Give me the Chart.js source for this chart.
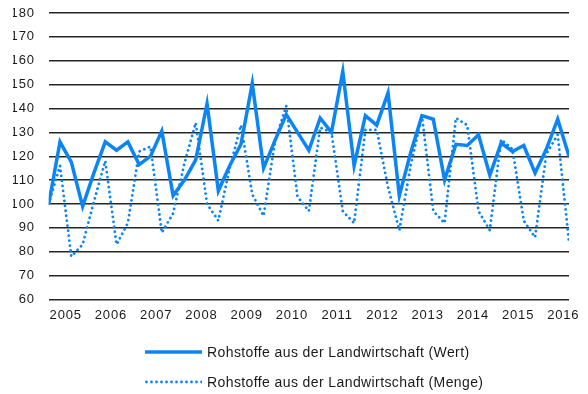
<!DOCTYPE html>
<html lang="de">
<head>
<meta charset="utf-8">
<title>Rohstoffe aus der Landwirtschaft</title>
<script src="https://cdn.jsdelivr.net/npm/chart.js@4/dist/chart.umd.min.js"></script>
<style>
  html, body { margin: 0; padding: 0; background: #fff; }
  #wrap { position: relative; width: 588px; height: 394px; }
  #legend {
    position: absolute; left: 145px; top: 337px;
    font: 14px "Liberation Sans", Arial, sans-serif; letter-spacing: 0.4px; color: #1a1a1a;
  }
  .item { display: flex; align-items: center; height: 30px; white-space: nowrap; }
  .item svg { margin-right: 5px; display: block; }
</style>
</head>
<body>
<div id="wrap">
  <canvas id="c"></canvas>
  <div id="legend"></div>
</div>
<script>
// Year labels, one per calendar year (quarterly data starts 2005 Q1)
const years = ['2005', '2006', '2007', '2008', '2009', '2010', '2011', '2012', '2013', '2014', '2015', '2016'];

// Index values per quarter, 2005 Q1 – 2016 Q3
const wert = [
  100, 126, 117.5, 99,
  113, 126, 122.5, 126,
  116.5, 120, 130.5, 103.5,
  110, 118.5, 142, 105.5,
  116, 125, 150.5, 115,
  126.5, 137.5, 130, 122.5,
  136, 130, 155.5, 116,
  137, 133, 146.5, 103.5,
  121.5, 137, 135.5, 110,
  125, 124.5, 129, 112,
  125.5, 122, 124.5, 113,
  123, 135.5, 120
];
const menge = [
  100, 116, 78, 83,
  101, 118, 83, 92,
  122, 124, 88, 96,
  117, 134, 100, 93,
  115, 133, 104, 95,
  126, 141, 103, 97,
  132, 130, 97, 92,
  131, 131, 107, 89,
  116, 137, 97, 92,
  136, 133, 97, 89,
  127, 123, 93, 86,
  121, 129, 84
];

const seriesNames = [
  'Rohstoffe aus der Landwirtschaft (Wert)',
  'Rohstoffe aus der Landwirtschaft (Menge)'
];

const BLUE = '#0b84f5';
const INK = '#1a1a1a';

Chart.defaults.font.family = '"Liberation Sans", Arial, sans-serif';
Chart.defaults.font.size = 13;
Chart.defaults.color = INK;

const toPoints = arr => arr.map((v, i) => ({ x: i, y: v }));

// slightly wider axis lettering
const letterSpacingPlugin = {
  id: 'letterSpacing',
  beforeDraw: chart => { chart.ctx.letterSpacing = '0.8px'; }
};

const chart = new Chart(document.getElementById('c'), {
  type: 'line',
  data: {
    datasets: [
      {
        label: seriesNames[0],
        data: toPoints(wert),
        borderColor: BLUE,
        borderWidth: 3.5,
        pointRadius: 0,
        tension: 0
      },
      {
        label: seriesNames[1],
        data: toPoints(menge),
        borderColor: BLUE,
        borderWidth: 2.8,
        borderDash: [0.01, 5],
        borderCapStyle: 'round',
        pointRadius: 0,
        tension: 0
      }
    ]
  },
  plugins: [letterSpacingPlugin],
  options: {
    responsive: true,
    maintainAspectRatio: false,
    animation: false,
    events: [],
    layout: { padding: { left: 13, right: 19, top: 13, bottom: 63 } },
    plugins: { legend: { display: false }, tooltip: { enabled: false } },
    scales: {
      x: {
        type: 'linear',
        min: 0,
        max: wert.length - 1,
        grid: { display: false, drawTicks: false },
        border: { display: false },
        afterBuildTicks: axis => {
          // one label per year, centred between its 2nd and 3rd quarter
          axis.ticks = years.map((_, k) => ({ value: 1.5 + 4 * k }));
        },
        ticks: {
          autoSkip: false,
          maxRotation: 0,
          padding: 8,
          callback: v => years[Math.round((v - 1.5) / 4)]
        }
      },
      y: {
        min: 60,
        max: 180,
        grid: { color: '#262626', lineWidth: 1.4, drawTicks: true, tickLength: 14, tickColor: 'rgba(0,0,0,0)' },
        border: { display: false },
        ticks: { stepSize: 10, padding: 0 }
      }
    }
  }
});

// Legend built from the chart's own datasets
const legend = document.getElementById('legend');
chart.data.datasets.forEach(ds => {
  const item = document.createElement('div');
  item.className = 'item';
  const dash = ds.borderDash ? `stroke-dasharray="0 5" stroke-linecap="round"` : '';
  item.innerHTML =
    `<svg width="57" height="8"><line x1="${ds.borderDash ? 1.5 : 0}" y1="4" x2="57" y2="4" stroke="${ds.borderColor}" stroke-width="${ds.borderWidth}" ${dash}/></svg>` +
    `<span>${ds.label}</span>`;
  legend.appendChild(item);
});
</script>
</body>
</html>
